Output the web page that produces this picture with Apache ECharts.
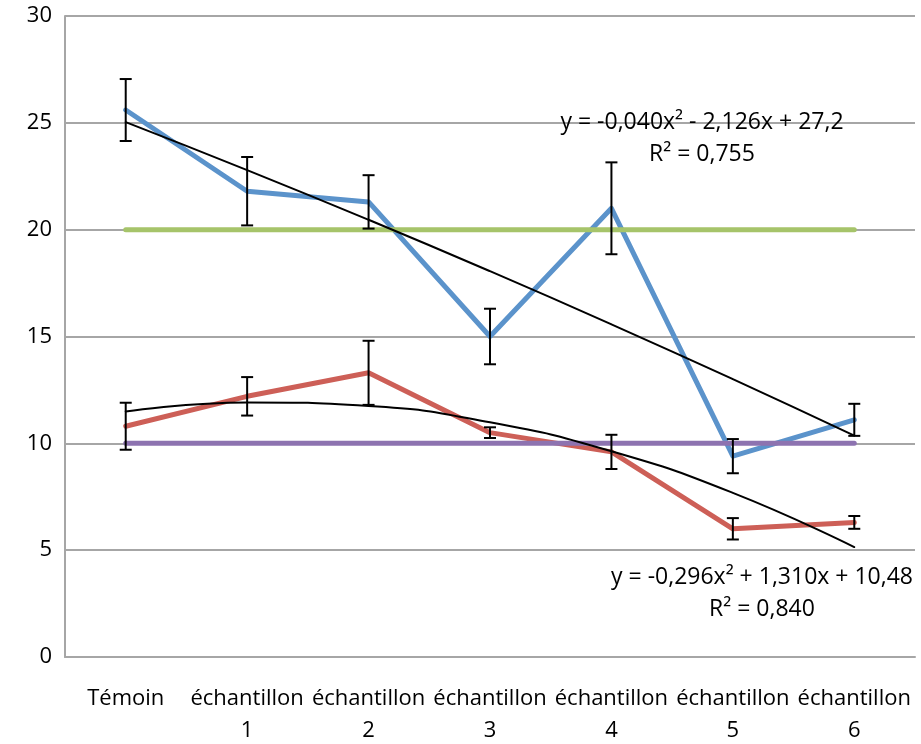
<!DOCTYPE html>
<html>
<head>
<meta charset="utf-8">
<script src="https://cdn.jsdelivr.net/npm/echarts@6/dist/echarts.min.js"></script>
<style>
  html, body { margin: 0; padding: 0; background: #ffffff; }
  #chart { width: 921px; height: 744px; }
</style>
</head>
<body>
<div id="chart"></div>
<script>
// Categories along the x axis
const categories = ['Témoin', 'échantillon\n1', 'échantillon\n2', 'échantillon\n3',
                    'échantillon\n4', 'échantillon\n5', 'échantillon\n6'];

// Blue series: means and error half-widths
const blueValues = [25.6, 21.8, 21.3, 15.0, 21.0, 9.4, 11.1];
const blueErrors = [1.45, 1.6, 1.25, 1.3, 2.15, 0.8, 0.75];

// Red series: means and error half-widths
const redValues = [10.8, 12.2, 13.3, 10.5, 9.6, 6.0, 6.3];
const redErrors = [1.1, 0.9, 1.5, 0.25, 0.8, 0.5, 0.3];

// Reference levels
const greenLevel = [20, 20, 20, 20, 20, 20, 20];
const purpleLevel = [10, 10, 10, 10, 10, 10, 10];

// Polynomial trend coefficients [a, b, c] for y = a x² + b x + c (x = 1..7)
const blueTrend = [-0.040, -2.126, 27.2];
const redTrend = [-0.296, 1.310, 10.48];

// Y axis ticks
const yTicks = { min: 0, max: 30, interval: 5 };

const FONT = '"Open Sans", "Liberation Sans", sans-serif';

function trendValues(coef) {
  return categories.map((_, i) => {
    const x = i + 1;
    return +(coef[0] * x * x + coef[1] * x + coef[2]).toFixed(3);
  });
}

function errorData(values, errors) {
  return values.map((v, i) => [i, v - errors[i], v + errors[i]]);
}

function renderError(params, api) {
  const x = api.value(0);
  const lo = api.coord([x, api.value(1)]);
  const hi = api.coord([x, api.value(2)]);
  const half = 6;
  const style = { stroke: '#000000', lineWidth: 2 };
  return {
    type: 'group',
    children: [
      { type: 'line', shape: { x1: lo[0], y1: lo[1], x2: hi[0], y2: hi[1] }, style },
      { type: 'line', shape: { x1: lo[0] - half, y1: lo[1], x2: lo[0] + half, y2: lo[1] }, style },
      { type: 'line', shape: { x1: hi[0] - half, y1: hi[1], x2: hi[0] + half, y2: hi[1] }, style }
    ]
  };
}

function lineSeries(data, color, width, z) {
  return {
    type: 'line',
    data,
    showSymbol: false,
    symbol: 'none',
    z,
    lineStyle: { color, width, cap: 'round', join: 'round' },
    emphasis: { disabled: true },
    silent: true,
    animation: false
  };
}

const chart = echarts.init(document.getElementById('chart'), null, { renderer: 'canvas' });

chart.setOption({
  animation: false,
  grid: { left: 65, right: 6, top: 16, bottom: 87, outerBoundsMode: 'none', containLabel: false },
  xAxis: {
    type: 'category',
    data: categories,
    boundaryGap: true,
    axisLine: { show: true, lineStyle: { color: '#a6a6a6', width: 2 } },
    axisTick: { show: false },
    axisLabel: {
      interval: 0,
      color: '#000000',
      fontFamily: FONT,
      fontSize: 22,
      lineHeight: 32,
      margin: 26
    }
  },
  yAxis: {
    type: 'value',
    min: yTicks.min,
    max: yTicks.max,
    interval: yTicks.interval,
    axisLine: { show: true, lineStyle: { color: '#a6a6a6', width: 2 } },
    axisTick: { show: false },
    axisLabel: { color: '#000000', fontFamily: FONT, fontSize: 22, margin: 13 },
    splitLine: { lineStyle: { color: '#a6a6a6', width: 2 } }
  },
  series: [
    lineSeries(blueValues, '#5b93cb', 5, 2),
    lineSeries(redValues, '#cd5f57', 5, 2),
    lineSeries(greenLevel, '#a6c46a', 5, 3),
    lineSeries(purpleLevel, '#8d73b0', 5, 3),
    {
      type: 'custom',
      renderItem: renderError,
      data: errorData(blueValues, blueErrors),
      encode: { x: 0, y: [1, 2] },
      z: 4, silent: true
    },
    {
      type: 'custom',
      renderItem: renderError,
      data: errorData(redValues, redErrors),
      encode: { x: 0, y: [1, 2] },
      z: 4, silent: true
    },
    Object.assign(lineSeries(trendValues(blueTrend), '#000000', 2, 5), { smooth: true }),
    Object.assign(lineSeries(trendValues(redTrend), '#000000', 2, 5), { smooth: true })
  ],
  graphic: [
    {
      type: 'text',
      style: {
        x: 702, y: 138,
        text: 'y = -0,040x² - 2,126x + 27,2\nR² = 0,755',
        align: 'center', verticalAlign: 'middle',
        font: '23px ' + FONT, lineHeight: 32, fill: '#000000'
      },
      z: 10
    },
    {
      type: 'text',
      style: {
        x: 762, y: 593,
        text: 'y = -0,296x² + 1,310x + 10,48\nR² = 0,840',
        align: 'center', verticalAlign: 'middle',
        font: '23px ' + FONT, lineHeight: 32, fill: '#000000'
      },
      z: 10
    }
  ]
});
</script>
</body>
</html>
